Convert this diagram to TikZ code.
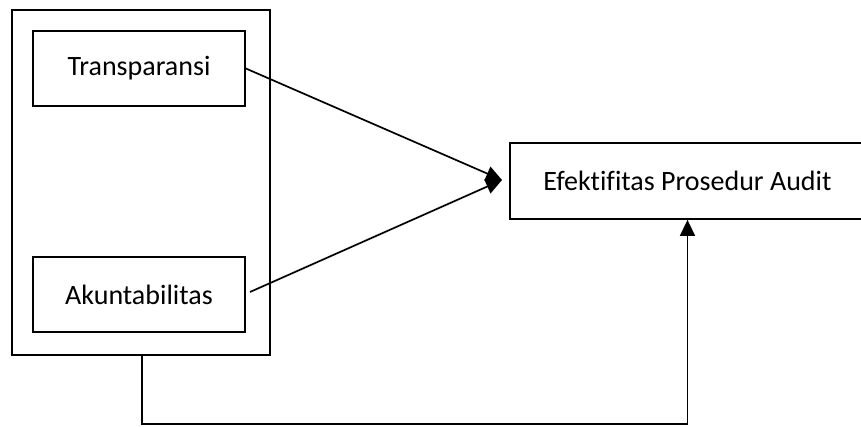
\documentclass[tikz,border=0pt]{standalone}
\usepackage{fontspec}
\setmainfont{Carlito}[RawFeature={-liga;-clig}]
\usetikzlibrary{arrows.meta,calc}
\begin{document}
\begin{tikzpicture}[x=1pt,y=-1pt,
  box/.style={draw,line width=1.8pt,inner sep=0pt,font=\fontsize{28}{32}\selectfont},
  link/.style={line width=1.7pt},
  arr/.style={link,-{Triangle[length=16pt,width=15pt]}}]
\useasboundingbox (0,0) rectangle (861,426);
\begin{scope}
\clip (0,0) rectangle (861,426);
% group frame around the two independent variables
\node[draw,line width=2.4pt,minimum width=258pt,minimum height=345pt] (grp) at (141,182.5) {};
\node[box,minimum width=212pt,minimum height=75pt] (tr) at (139,68.5) {Transparansi};
\node[box,minimum width=212pt,minimum height=75pt] (ak) at (139,294.5) {Akuntabilitas};
% dependent variable (its right edge runs off the page)
\node[box,minimum width=355pt,minimum height=76pt] (ef) at (687.5,181) {Efektifitas Prosedur Audit};
\coordinate (tip) at (502,180);
\coordinate (akout) at (250,292);
\draw[arr] (tr.east) -- (tip);
\draw[arr] (akout) -- (tip);
\coordinate (c1) at (142,424);
\coordinate (c2) at (687.5,424);
\draw[arr] (grp.south -| c1) -- (c1) -- (c2) -- (ef.south);
\end{scope}
\end{tikzpicture}
\end{document}
